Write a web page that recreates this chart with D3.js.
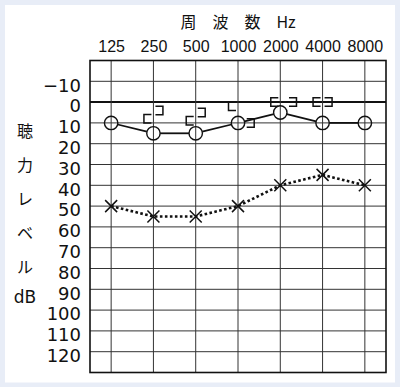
<!DOCTYPE html>
<html><head><meta charset="utf-8">
<script src="https://cdn.jsdelivr.net/npm/d3@7"></script>
<style>
html,body{margin:0;padding:0;background:#e8edf7;}
svg{display:block;}
</style></head>
<body>
<svg id="chart" width="400" height="387"></svg>
<script>
const freqs = ["125","250","500","1000","2000","4000","8000"];
const dbTicks = [-10,0,10,20,30,40,50,60,70,80,90,100,110,120];
const rightAir = [10,15,15,10,5,10,10];
const leftAir = [50,55,55,50,40,35,40];
const boneFreqs = ["250","500","1000","2000","4000"];
const rightBone = [8,9,2,0,0];
const leftBone = [4,5,10,0,0];
const titleTop = "周　波　数　Hz";
const titleLeft = ["聴","力","レ","ベ","ル"];
const unitLabel = "dB";

const svg = d3.select("#chart");
svg.append("rect").attr("x",0).attr("y",0).attr("width",400).attr("height",387).attr("fill","#e8edf7");
svg.append("rect").attr("x",5).attr("y",5).attr("width",390).attr("height",377.5).attr("fill","#fff");

const L=90, R=386, T=60.5, B=372.5;
const x = d3.scalePoint().domain(freqs).range([L,R]).padding(0.5);
const y = d3.scaleLinear().domain([-20,130]).range([T,B]);

const g = svg.append("g");
g.selectAll("line.h").data(dbTicks).join("line")
  .attr("x1",L).attr("x2",R).attr("y1",d=>y(d)).attr("y2",d=>y(d))
  .attr("stroke", d=>d===0?"#111":"#333").attr("stroke-width", d=>d===0?2:1);
g.selectAll("line.v").data(freqs).join("line")
  .attr("x1",d=>x(d)).attr("x2",d=>x(d)).attr("y1",T).attr("y2",B)
  .attr("stroke","#333").attr("stroke-width",1);
g.append("rect").attr("x",L).attr("y",T).attr("width",R-L).attr("height",B-T)
  .attr("fill","none").attr("stroke","#111").attr("stroke-width",1.6);

const topAxis = d3.axisTop(x).tickSize(0).tickPadding(0);
const ta = svg.append("g").attr("transform",`translate(0,51.5)`).call(topAxis);
ta.select(".domain").remove();
ta.selectAll("text").attr("font-family","'Liberation Sans',Arial,sans-serif").attr("font-size",16).attr("fill","#111").attr("dy",0);

const leftAxis = d3.axisLeft(y).tickValues(dbTicks).tickSize(0).tickPadding(0)
  .tickFormat(d=> d<0 ? "\u2212"+Math.abs(d) : String(d));
const la = svg.append("g").attr("transform",`translate(81,0)`).call(leftAxis);
la.select(".domain").remove();
la.selectAll("text").attr("font-family","'DejaVu Sans',sans-serif").attr("font-size",18).attr("fill","#111").attr("dy","0.45em").attr("y",1.7);

svg.append("text").attr("x",238).attr("y",28).attr("text-anchor","middle")
  .attr("font-family","'Noto Sans CJK JP',sans-serif").attr("font-size",16).attr("fill","#111")
  .attr("xml:space","preserve").text(titleTop);
svg.selectAll("text.lt").data(titleLeft).join("text")
  .attr("x",25).attr("y",(d,i)=>131+i*34).attr("dy","0.36em").attr("text-anchor","middle")
  .attr("font-family","'Noto Sans CJK JP',sans-serif").attr("font-size",16).attr("fill","#111").text(d=>d);
svg.append("text").attr("x",25).attr("y",297).attr("dy","0.36em").attr("text-anchor","middle")
  .attr("font-family","'DejaVu Sans',sans-serif").attr("font-size",17).attr("fill","#111").text(unitLabel);

const lineGen = d3.line().x((d,i)=>x(freqs[i])).y(d=>y(d));
svg.append("path").attr("d",lineGen(leftAir)).attr("fill","none").attr("stroke","#111")
  .attr("stroke-width",2.6).attr("stroke-dasharray","2.6,2.4");
const xs = 6;
svg.selectAll("path.x").data(leftAir).join("path")
  .attr("d",(d,i)=>{const cx=x(freqs[i]), cy=y(d);
    return `M${cx-xs},${cy-xs}L${cx+xs},${cy+xs}M${cx-xs},${cy+xs}L${cx+xs},${cy-xs}`;})
  .attr("stroke","#111").attr("stroke-width",1.5).attr("fill","none");

const r = 6.7;
const segs = d3.pairs(rightAir.map((d,i)=>[x(freqs[i]),y(d)]));
svg.selectAll("line.seg").data(segs).join("line")
  .each(function([a,b]){
    const dx=b[0]-a[0], dy=b[1]-a[1], len=Math.hypot(dx,dy), ux=dx/len, uy=dy/len;
    d3.select(this).attr("x1",a[0]+ux*r).attr("y1",a[1]+uy*r).attr("x2",b[0]-ux*r).attr("y2",b[1]-uy*r);
  })
  .attr("stroke","#111").attr("stroke-width",1.8);
svg.selectAll("circle.o").data(rightAir).join("circle")
  .attr("cx",(d,i)=>x(freqs[i])).attr("cy",d=>y(d)).attr("r",r)
  .attr("fill","none").attr("stroke","#111").attr("stroke-width",1.4);

const bw = 7.5, bh = 8.5, gap = 2;
function airAt(f){ return rightAir[freqs.indexOf(f)]; }
svg.selectAll("path.rb").data(rightBone).join("path")
  .attr("d",(d,i)=>{const cx=x(boneFreqs[i]), cy=y(d);
    return `M${cx-gap},${cy-bh/2}H${cx-gap-bw}V${cy+bh/2}H${cx-gap}`;})
  .attr("fill","none").attr("stroke","#111").attr("stroke-width",1.5);
svg.selectAll("path.lb").data(leftBone).join("path")
  .attr("d",(d,i)=>{const f=boneFreqs[i], cx=x(f), cy=y(d);
    const overlap = Math.abs(cy - y(airAt(f))) < r + bh/2;
    const off = overlap ? r + 2 : gap;
    return `M${cx+off},${cy-bh/2}H${cx+off+bw}V${cy+bh/2}H${cx+off}`;})
  .attr("fill","none").attr("stroke","#111").attr("stroke-width",1.5);
</script>
</body></html>
